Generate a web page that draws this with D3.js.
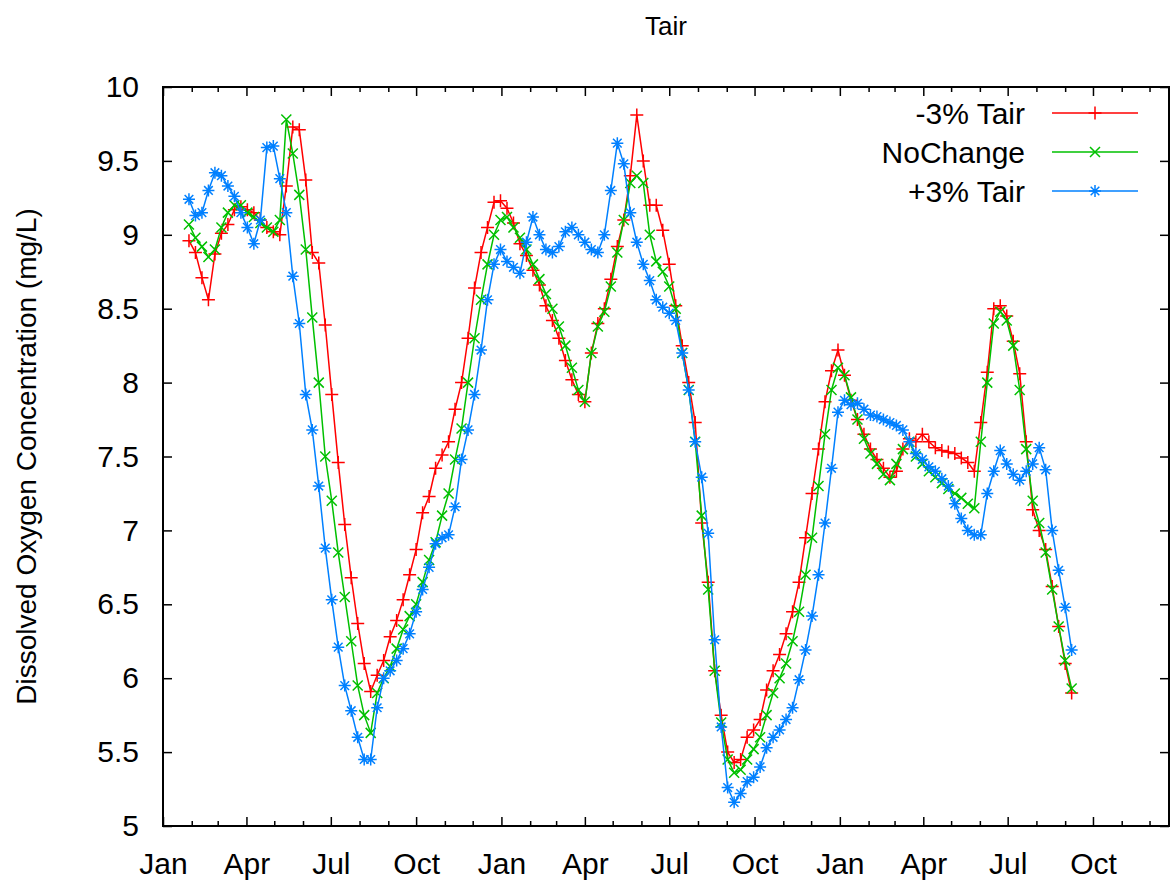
<!DOCTYPE html>
<html><head><meta charset="utf-8">
<script src="https://cdn.jsdelivr.net/npm/d3@7"></script>
<style>
body{margin:0;background:#fff}
svg{display:block}
text{font-family:"Liberation Sans",Arial,sans-serif;fill:#000}
</style>
</head><body>
<svg id="chart" width="1174" height="882"></svg>
<script>
// Day number (days after 1 Jan of the first year) of each sample
const days = [28,35,42,49,56,63,70,77,84,91,98,105,112,119,126,133,140,147,154,161,168,175,182,189,196,203,210,217,224,231,238,245,252,259,266,273,280,287,294,301,308,315,322,329,336,343,350,357,364,371,378,385,392,399,406,413,420,427,434,441,448,455,462,469,476,483,490,497,504,511,518,525,532,539,546,553,560,567,574,581,588,595,602,609,616,623,630,637,644,651,658,665,672,679,686,693,700,707,714,721,728,735,742,749,756,763,770,777,784,791,798,805,812,819,826,833,840,847,854,861,868,875,882,889,896,903,910,917,924,931,938,945,952,959,966,973,980];

const minus3Tair = [
8.96,8.88,8.71,8.56,8.87,9.01,9.07,9.17,9.19,9.17,
9.15,9.1,9.05,9.02,9.0,9.33,9.73,9.71,9.37,8.88,
8.81,8.39,7.92,7.46,7.04,6.68,6.37,6.10,5.91,6.02,
6.12,6.28,6.39,6.53,6.70,6.87,7.12,7.23,7.42,7.51,
7.6,7.82,8.0,8.3,8.64,8.88,9.05,9.22,9.23,9.18,
9.08,8.94,8.86,8.76,8.66,8.52,8.42,8.3,8.15,8.02,
7.92,7.87,8.2,8.4,8.5,8.7,8.92,9.1,9.4,9.81,
9.5,9.2,9.2,9.03,8.8,8.52,8.25,8.0,7.73,7.05,
6.65,6.05,5.75,5.5,5.43,5.45,5.6,5.65,5.72,5.92,
6.05,6.16,6.3,6.45,6.65,6.95,7.25,7.55,7.87,8.08,
8.22,8.05,7.88,7.75,7.65,7.55,7.48,7.42,7.36,7.4,
7.55,7.62,7.6,7.65,7.6,7.56,7.54,7.53,7.52,7.49,
7.46,7.4,7.73,8.07,8.5,8.52,8.45,8.28,8.06,7.6,
7.14,7.0,6.87,6.62,6.35,6.1,5.9];

const noChange = [
9.07,8.98,8.92,8.85,8.9,9.05,9.15,9.2,9.2,9.15,
9.12,9.08,9.05,9.02,9.1,9.78,9.55,9.27,8.9,8.44,
8.0,7.5,7.2,6.85,6.55,6.25,5.95,5.75,5.63,5.9,
6.0,6.08,6.2,6.33,6.42,6.5,6.65,6.8,6.92,7.1,
7.25,7.48,7.69,8.0,8.3,8.56,8.8,9.0,9.1,9.12,
9.05,8.98,8.9,8.8,8.7,8.6,8.5,8.38,8.25,8.1,
7.95,7.87,8.2,8.38,8.48,8.65,8.88,9.1,9.35,9.4,
9.35,9.0,8.82,8.75,8.65,8.5,8.2,7.95,7.6,7.1,
6.6,6.05,5.7,5.45,5.36,5.38,5.45,5.52,5.6,5.75,
5.9,6.0,6.1,6.25,6.45,6.7,6.95,7.3,7.65,7.95,
8.1,8.05,7.9,7.75,7.62,7.52,7.45,7.38,7.34,7.45,
7.55,7.6,7.5,7.45,7.4,7.36,7.32,7.28,7.25,7.22,
7.18,7.15,7.6,8.0,8.4,8.48,8.42,8.25,7.95,7.55,
7.2,7.05,6.85,6.6,6.35,6.12,5.93];

const plus3Tair = [
9.24,9.13,9.15,9.3,9.42,9.4,9.33,9.26,9.15,9.05,
8.94,9.1,9.59,9.6,9.38,9.15,8.72,8.4,7.92,7.68,
7.3,6.88,6.53,6.21,5.95,5.78,5.6,5.45,5.45,5.8,
6.0,6.05,6.12,6.2,6.3,6.45,6.6,6.75,6.91,6.95,
6.97,7.16,7.48,7.68,7.92,8.22,8.56,8.8,8.9,8.82,
8.78,8.74,8.95,9.12,9.0,8.9,8.88,8.92,9.02,9.05,
9.0,8.95,8.9,8.88,9.0,9.3,9.62,9.48,9.15,8.95,
8.8,8.69,8.56,8.51,8.47,8.42,8.2,7.95,7.6,7.36,
6.98,6.26,5.67,5.26,5.16,5.22,5.3,5.33,5.4,5.53,
5.6,5.65,5.72,5.8,5.99,6.19,6.42,6.7,7.05,7.42,
7.8,7.88,7.85,7.86,7.82,7.78,7.77,7.75,7.73,7.71,
7.68,7.6,7.52,7.48,7.43,7.4,7.35,7.3,7.18,7.08,
7.0,6.97,6.97,7.25,7.4,7.54,7.45,7.38,7.34,7.4,
7.45,7.56,7.41,7.0,6.73,6.48,6.19];

const seriesNames = ["-3% Tair", "NoChange", "+3% Tair"];
const seriesColors = ["#ff0000", "#00c000", "#0080ff"];
const markerKinds = ["plus", "cross", "star"];
const yTickValues = [5, 5.5, 6, 6.5, 7, 7.5, 8, 8.5, 9, 9.5, 10];
const monthLabels = ["Jan", "Apr", "Jul", "Oct"];
const chartTitle = "Tair";
const yTitle = "Dissolved Oxygen Concentration (mg/L)";

const DAY = 864e5;
const t0 = Date.UTC(2001, 0, 1);
const toDate = d => new Date(t0 + d * DAY);

const L = 163, R = 1169, T = 87, B = 826;
const FONT = '"Liberation Sans",Arial,sans-serif';
const svg = d3.select("#chart");

const x = d3.scaleUtc().domain([toDate(0), toDate(1085)]).range([L, R]);
const y = d3.scaleLinear().domain([5, 10]).range([B, T]);

const quarterTicks = d3.utcMonth.every(3).range(toDate(0), toDate(1086));
const monthTicks = d3.utcMonth.range(toDate(0), toDate(1086)).filter(d => d.getUTCMonth() % 3 !== 0);

// bottom axis (major + labels)
const gx = svg.append("g").attr("transform", `translate(0,${B})`)
  .call(d3.axisBottom(x).tickValues(quarterTicks)
    .tickFormat(d => monthLabels[d.getUTCMonth() / 3])
    .tickSizeInner(-9).tickSizeOuter(0).tickPadding(27));
gx.select(".domain").remove();
gx.selectAll("text").attr("font-size", 30).attr("font-family", FONT);
// bottom minor
const gxm = svg.append("g").attr("transform", `translate(0,${B})`)
  .call(d3.axisBottom(x).tickValues(monthTicks).tickFormat("").tickSizeInner(-5).tickSizeOuter(0));
gxm.select(".domain").remove();
// top mirror
const gxt = svg.append("g").attr("transform", `translate(0,${T})`)
  .call(d3.axisTop(x).tickValues(quarterTicks).tickFormat("").tickSizeInner(-9).tickSizeOuter(0));
gxt.select(".domain").remove();
const gxtm = svg.append("g").attr("transform", `translate(0,${T})`)
  .call(d3.axisTop(x).tickValues(monthTicks).tickFormat("").tickSizeInner(-5).tickSizeOuter(0));
gxtm.select(".domain").remove();

// left axis
const gy = svg.append("g").attr("transform", `translate(${L},0)`)
  .call(d3.axisLeft(y).tickValues(yTickValues).tickFormat(d3.format("~g"))
    .tickSizeInner(-9).tickSizeOuter(0).tickPadding(24));
gy.select(".domain").remove();
gy.selectAll("text").attr("font-size", 30).attr("font-family", FONT);
// right mirror
const gyr = svg.append("g").attr("transform", `translate(${R},0)`)
  .call(d3.axisRight(y).tickValues(yTickValues).tickFormat("").tickSizeInner(-9).tickSizeOuter(0));
gyr.select(".domain").remove();

svg.selectAll(".tick line").attr("stroke", "#000").attr("stroke-width", 1.5);

// frame
svg.append("rect").attr("x", L).attr("y", T).attr("width", R - L).attr("height", B - T)
  .attr("fill", "none").attr("stroke", "#000").attr("stroke-width", 2);

// titles
svg.append("text").attr("x", (L + R) / 2).attr("y", 35).attr("text-anchor", "middle")
  .attr("font-size", 26).text(chartTitle);
svg.append("text").attr("transform", `translate(36,${(T + B) / 2}) rotate(-90)`)
  .attr("text-anchor", "middle").attr("font-size", 28).text(yTitle);

function markerPath(kind, s) {
  if (kind === "plus") return `M${-s},0H${s}M0,${-s}V${s}`;
  if (kind === "cross") return `M${-s},${-s}L${s},${s}M${-s},${s}L${s},${-s}`;
  const c = s * 0.72;
  return `M${-s},0H${s}M0,${-s}V${s}M${-c},${-c}L${c},${c}M${-c},${c}L${c},${-c}`;
}
const markerSize = {plus: 6.5, cross: 5, star: 6};

const allSeries = [minus3Tair, noChange, plus3Tair];
const line = d3.line().x(d => x(toDate(d[0]))).y(d => y(d[1]));

allSeries.forEach((vals, k) => {
  const pts = days.map((d, i) => [d, vals[i]]);
  const g = svg.append("g");
  g.append("path").datum(pts).attr("d", line).attr("fill", "none")
    .attr("stroke", seriesColors[k]).attr("stroke-width", 1.5);
  g.selectAll("path.m").data(pts).join("path").attr("class", "m")
    .attr("transform", d => `translate(${x(toDate(d[0]))},${y(d[1])})`)
    .attr("d", markerPath(markerKinds[k], markerSize[markerKinds[k]]))
    .attr("fill", "none").attr("stroke", seriesColors[k]).attr("stroke-width", 1.5);
});

// legend
const legendRows = [113, 152, 191];
seriesNames.forEach((name, k) => {
  const yy = legendRows[k];
  svg.append("text").attr("x", 1025).attr("y", yy).attr("dy", "0.35em")
    .attr("text-anchor", "end").attr("font-size", 30).text(name);
  svg.append("line").attr("x1", 1052).attr("x2", 1138).attr("y1", yy).attr("y2", yy)
    .attr("stroke", seriesColors[k]).attr("stroke-width", 1.5);
  svg.append("path").attr("transform", `translate(1095,${yy})`)
    .attr("d", markerPath(markerKinds[k], markerSize[markerKinds[k]]))
    .attr("fill", "none").attr("stroke", seriesColors[k]).attr("stroke-width", 1.5);
});
</script>
</body></html>
